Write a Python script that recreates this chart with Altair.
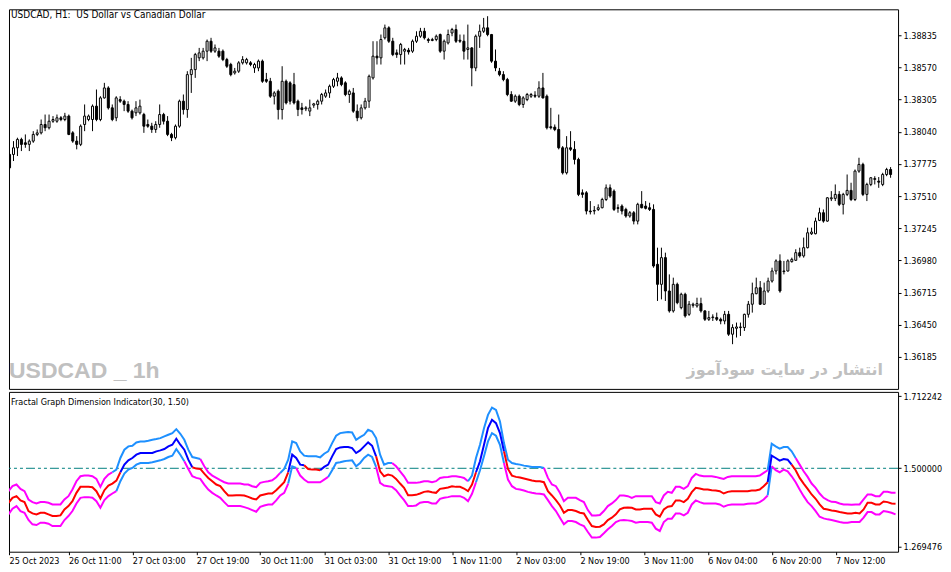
import json

import altair as alt
import pandas as pd

# USDCAD H1 candles (bar 0 = 25 Oct 2023)
opens = [
    1.37853, 1.37853, 1.37908, 1.37977, 1.37949, 1.37936, 1.37963, 1.38018, 1.38031, 1.38100,
    1.38073, 1.38127, 1.38127, 1.38155, 1.38141, 1.38169, 1.38031, 1.37963, 1.37936, 1.38100,
    1.38141, 1.38141, 1.38251, 1.38141, 1.38319, 1.38401, 1.38237, 1.38155, 1.38305, 1.38292,
    1.38265, 1.38210, 1.38196, 1.38196, 1.38182, 1.38100, 1.38086, 1.38059, 1.38100, 1.38182,
    1.38127, 1.38018, 1.37991, 1.38086, 1.38292, 1.38223, 1.38511, 1.38552, 1.38649, 1.38649,
    1.38704, 1.38786, 1.38704, 1.38704, 1.38704, 1.38635, 1.38594, 1.38525, 1.38539, 1.38608,
    1.38608, 1.38608, 1.38566, 1.38566, 1.38622, 1.38470, 1.38456, 1.38333, 1.38374, 1.38223,
    1.38456, 1.38443, 1.38429, 1.38292, 1.38237, 1.38229, 1.38210, 1.38259, 1.38265, 1.38292,
    1.38333, 1.38360, 1.38415, 1.38456, 1.38484, 1.38443, 1.38347, 1.38360, 1.38210, 1.38155,
    1.38237, 1.38292, 1.38484, 1.38663, 1.38649, 1.38814, 1.38896, 1.38786, 1.38690, 1.38676,
    1.38704, 1.38712, 1.38704, 1.38786, 1.38827, 1.38868, 1.38800, 1.38792, 1.38800, 1.38841,
    1.38704, 1.38772, 1.38854, 1.38882, 1.38794, 1.38786, 1.38718, 1.38731, 1.38566, 1.38827,
    1.38868, 1.38896, 1.38841, 1.38622, 1.38539, 1.38511, 1.38470, 1.38347, 1.38292, 1.38333,
    1.38265, 1.38305, 1.38333, 1.38341, 1.38333, 1.38401, 1.38333, 1.38081, 1.38078, 1.38059,
    1.37908, 1.37702, 1.37908, 1.37895, 1.37812, 1.37537, 1.37537, 1.37387, 1.37387, 1.37400,
    1.37414, 1.37482, 1.37578, 1.37551, 1.37414, 1.37428, 1.37400, 1.37346, 1.37373, 1.37304,
    1.37442, 1.37428, 1.37414, 1.37400, 1.36948, 1.36783, 1.37003, 1.36728, 1.36564, 1.36783,
    1.36591, 1.36701, 1.36536, 1.36610, 1.36605, 1.36624, 1.36564, 1.36495, 1.36509, 1.36509,
    1.36495, 1.36481, 1.36536, 1.36372, 1.36421, 1.36427, 1.36427, 1.36536, 1.36619, 1.36706,
    1.36755, 1.36619, 1.36728, 1.36810, 1.36893, 1.36976, 1.36888, 1.36893, 1.36970, 1.36981,
    1.37044, 1.37017, 1.37085, 1.37200, 1.37200, 1.37310, 1.37373, 1.37304, 1.37488, 1.37491,
    1.37524, 1.37442, 1.37524, 1.37557, 1.37482, 1.37716, 1.37771, 1.37524, 1.37606, 1.37647,
    1.37633, 1.37606, 1.37688, 1.37729,
]
highs = [
    1.37867, 1.37963, 1.37991, 1.37991, 1.38018, 1.37977, 1.38045, 1.38059, 1.38141, 1.38182,
    1.38182, 1.38169, 1.38182, 1.38169, 1.38196, 1.38182, 1.38045, 1.38004, 1.38100, 1.38265,
    1.38182, 1.38265, 1.38388, 1.38333, 1.38443, 1.38415, 1.38265, 1.38333, 1.38333, 1.38305,
    1.38292, 1.38223, 1.38292, 1.38305, 1.38196, 1.38141, 1.38114, 1.38127, 1.38265, 1.38196,
    1.38169, 1.38031, 1.38100, 1.38305, 1.38347, 1.38539, 1.38649, 1.38690, 1.38731, 1.38731,
    1.38800, 1.38814, 1.38759, 1.38731, 1.38718, 1.38649, 1.38608, 1.38566, 1.38622, 1.38663,
    1.38649, 1.38622, 1.38608, 1.38635, 1.38635, 1.38525, 1.38484, 1.38374, 1.38388, 1.38580,
    1.38470, 1.38456, 1.38525, 1.38305, 1.38278, 1.38251, 1.38305, 1.38278, 1.38305, 1.38360,
    1.38388, 1.38429, 1.38484, 1.38525, 1.38497, 1.38456, 1.38388, 1.38401, 1.38265, 1.38265,
    1.38319, 1.38511, 1.38786, 1.38786, 1.38841, 1.38923, 1.38909, 1.38814, 1.38718, 1.38772,
    1.38731, 1.38731, 1.38800, 1.38868, 1.38896, 1.38896, 1.38814, 1.38814, 1.38841, 1.38849,
    1.38800, 1.38882, 1.38896, 1.38923, 1.38841, 1.38841, 1.38923, 1.38737, 1.38841, 1.38923,
    1.38978, 1.38992, 1.38846, 1.38718, 1.38566, 1.38539, 1.38484, 1.38374, 1.38347, 1.38347,
    1.38333, 1.38360, 1.38360, 1.38374, 1.38456, 1.38525, 1.38347, 1.38237, 1.38100, 1.38182,
    1.37922, 1.38004, 1.38045, 1.37963, 1.37826, 1.37565, 1.37551, 1.37469, 1.37428, 1.37442,
    1.37496, 1.37606, 1.37606, 1.37565, 1.37442, 1.37442, 1.37414, 1.37387, 1.37387, 1.37455,
    1.37551, 1.37469, 1.37455, 1.37442, 1.37085, 1.37085, 1.37044, 1.36865, 1.36838, 1.36797,
    1.36714, 1.36714, 1.36646, 1.36632, 1.36673, 1.36673, 1.36570, 1.36564, 1.36536, 1.36550,
    1.36509, 1.36564, 1.36564, 1.36454, 1.36468, 1.36468, 1.36541, 1.36646, 1.36797, 1.36838,
    1.36810, 1.36797, 1.36838, 1.36920, 1.36989, 1.37030, 1.36976, 1.36989, 1.37003, 1.37072,
    1.37085, 1.37168, 1.37250, 1.37250, 1.37332, 1.37414, 1.37400, 1.37502, 1.37551, 1.37606,
    1.37551, 1.37537, 1.37688, 1.37620, 1.37729, 1.37826, 1.37785, 1.37620, 1.37667, 1.37674,
    1.37667, 1.37702, 1.37743, 1.37749,
]
lows = [
    1.37729, 1.37799, 1.37840, 1.37881, 1.37908, 1.37881, 1.37949, 1.38004, 1.38018, 1.38045,
    1.38059, 1.38114, 1.38114, 1.38127, 1.38127, 1.38012, 1.37949, 1.37895, 1.37922, 1.38045,
    1.38127, 1.38045, 1.38127, 1.38127, 1.38313, 1.38223, 1.38127, 1.38127, 1.38278, 1.38210,
    1.38196, 1.38141, 1.38169, 1.38182, 1.38031, 1.38073, 1.38031, 1.38031, 1.38073, 1.38100,
    1.38004, 1.37963, 1.37977, 1.38073, 1.38182, 1.38155, 1.38360, 1.38484, 1.38622, 1.38635,
    1.38622, 1.38690, 1.38690, 1.38649, 1.38622, 1.38566, 1.38497, 1.38511, 1.38525, 1.38594,
    1.38594, 1.38580, 1.38525, 1.38539, 1.38443, 1.38443, 1.38319, 1.38265, 1.38141, 1.38141,
    1.38265, 1.38265, 1.38265, 1.38169, 1.38182, 1.38210, 1.38169, 1.38237, 1.38223, 1.38265,
    1.38319, 1.38319, 1.38401, 1.38415, 1.38415, 1.38333, 1.38278, 1.38196, 1.38127, 1.38141,
    1.38223, 1.38237, 1.38470, 1.38594, 1.38594, 1.38800, 1.38772, 1.38663, 1.38649, 1.38594,
    1.38594, 1.38676, 1.38690, 1.38772, 1.38814, 1.38800, 1.38772, 1.38786, 1.38786, 1.38690,
    1.38635, 1.38759, 1.38827, 1.38772, 1.38772, 1.38635, 1.38635, 1.38415, 1.38539, 1.38731,
    1.38854, 1.38827, 1.38608, 1.38539, 1.38497, 1.38456, 1.38333, 1.38287, 1.38278, 1.38251,
    1.38237, 1.38292, 1.38319, 1.38319, 1.38319, 1.38314, 1.38059, 1.38059, 1.38045, 1.37895,
    1.37688, 1.37688, 1.37881, 1.37771, 1.37510, 1.37496, 1.37359, 1.37359, 1.37359, 1.37387,
    1.37409, 1.37469, 1.37496, 1.37387, 1.37373, 1.37359, 1.37332, 1.37332, 1.37277, 1.37277,
    1.37409, 1.37400, 1.37387, 1.36920, 1.36646, 1.36659, 1.36646, 1.36550, 1.36550, 1.36619,
    1.36577, 1.36509, 1.36523, 1.36591, 1.36591, 1.36550, 1.36481, 1.36481, 1.36481, 1.36481,
    1.36454, 1.36454, 1.36358, 1.36290, 1.36345, 1.36358, 1.36399, 1.36509, 1.36550, 1.36701,
    1.36613, 1.36613, 1.36714, 1.36797, 1.36865, 1.36714, 1.36865, 1.36888, 1.36962, 1.36976,
    1.37003, 1.37003, 1.37079, 1.37190, 1.37195, 1.37304, 1.37291, 1.37299, 1.37469, 1.37469,
    1.37428, 1.37359, 1.37510, 1.37469, 1.37469, 1.37702, 1.37510, 1.37469, 1.37592, 1.37606,
    1.37578, 1.37592, 1.37674, 1.37661,
]
closes = [
    1.37743, 1.37908, 1.37977, 1.37936, 1.37936, 1.37963, 1.38018, 1.38031, 1.38100, 1.38073,
    1.38127, 1.38141, 1.38155, 1.38141, 1.38169, 1.38018, 1.37963, 1.37936, 1.38086, 1.38169,
    1.38169, 1.38251, 1.38141, 1.38319, 1.38401, 1.38237, 1.38141, 1.38319, 1.38292, 1.38265,
    1.38210, 1.38155, 1.38237, 1.38251, 1.38086, 1.38086, 1.38059, 1.38100, 1.38182, 1.38127,
    1.38018, 1.37991, 1.38086, 1.38292, 1.38223, 1.38511, 1.38552, 1.38676, 1.38690, 1.38704,
    1.38786, 1.38704, 1.38731, 1.38663, 1.38635, 1.38580, 1.38511, 1.38539, 1.38608, 1.38635,
    1.38635, 1.38594, 1.38594, 1.38622, 1.38456, 1.38456, 1.38333, 1.38360, 1.38223, 1.38456,
    1.38278, 1.38292, 1.38278, 1.38223, 1.38223, 1.38237, 1.38237, 1.38270, 1.38292, 1.38347,
    1.38360, 1.38415, 1.38470, 1.38484, 1.38429, 1.38347, 1.38374, 1.38210, 1.38155, 1.38237,
    1.38292, 1.38497, 1.38663, 1.38649, 1.38800, 1.38896, 1.38786, 1.38676, 1.38676, 1.38759,
    1.38718, 1.38698, 1.38786, 1.38827, 1.38868, 1.38814, 1.38792, 1.38800, 1.38827, 1.38704,
    1.38786, 1.38841, 1.38882, 1.38786, 1.38786, 1.38704, 1.38731, 1.38566, 1.38827, 1.38868,
    1.38896, 1.38841, 1.38622, 1.38566, 1.38511, 1.38470, 1.38347, 1.38292, 1.38333, 1.38265,
    1.38319, 1.38347, 1.38347, 1.38333, 1.38401, 1.38319, 1.38073, 1.38073, 1.38059, 1.37908,
    1.37702, 1.37908, 1.37895, 1.37812, 1.37524, 1.37524, 1.37387, 1.37381, 1.37392, 1.37414,
    1.37482, 1.37578, 1.37510, 1.37400, 1.37409, 1.37387, 1.37346, 1.37373, 1.37304, 1.37442,
    1.37414, 1.37409, 1.37400, 1.36934, 1.36783, 1.37003, 1.36728, 1.36564, 1.36783, 1.36632,
    1.36701, 1.36523, 1.36619, 1.36619, 1.36624, 1.36564, 1.36495, 1.36509, 1.36514, 1.36495,
    1.36481, 1.36536, 1.36372, 1.36427, 1.36432, 1.36432, 1.36536, 1.36619, 1.36706, 1.36755,
    1.36619, 1.36728, 1.36810, 1.36893, 1.36976, 1.36728, 1.36893, 1.36976, 1.36989, 1.37044,
    1.37017, 1.37085, 1.37208, 1.37214, 1.37304, 1.37373, 1.37304, 1.37496, 1.37496, 1.37524,
    1.37442, 1.37524, 1.37557, 1.37482, 1.37716, 1.37771, 1.37524, 1.37606, 1.37661, 1.37655,
    1.37625, 1.37688, 1.37729, 1.37688,
]

# Fractal Graph Dimension Indicator(30, 1.50): main line and its two bands
fgdi = [
    1.3855, 1.3982, 1.4129, 1.4178, 1.4051, 1.4002, 1.3738, 1.3669, 1.3640, 1.3689,
    1.3689, 1.3640, 1.3591, 1.3591, 1.3610, 1.3786, 1.3884, 1.4031, 1.4276, 1.4452,
    1.4452, 1.4452, 1.4442, 1.4325, 1.4110, 1.4354, 1.4491, 1.4550, 1.4638, 1.4883,
    1.5108, 1.5235, 1.5304, 1.5402, 1.5451, 1.5451, 1.5451, 1.5451, 1.5500, 1.5529,
    1.5568, 1.5647, 1.5695, 1.5872, 1.5695, 1.5549, 1.5255, 1.5030, 1.4991, 1.4981,
    1.4844, 1.4716, 1.4619, 1.4521, 1.4472, 1.4325, 1.4198, 1.4198, 1.4207, 1.4207,
    1.4198, 1.4158, 1.4110, 1.4080, 1.4198, 1.4227, 1.4256, 1.4256, 1.4354, 1.4472,
    1.4589, 1.4883, 1.5402, 1.5304, 1.5108, 1.5088, 1.4981, 1.4961, 1.4961, 1.4942,
    1.5040, 1.5108, 1.5353, 1.5568, 1.5617, 1.5627, 1.5627, 1.5598, 1.5451, 1.5529,
    1.5647, 1.5764, 1.5666, 1.5353, 1.4912, 1.4765, 1.4814, 1.4785, 1.4687, 1.4550,
    1.4423, 1.4207, 1.4207, 1.4217, 1.4256, 1.4305, 1.4325, 1.4295, 1.4276, 1.4393,
    1.4413, 1.4432, 1.4472, 1.4452, 1.4452, 1.4403, 1.4325, 1.4521, 1.4883, 1.5206,
    1.5695, 1.6185, 1.6430, 1.6332, 1.6038, 1.5500, 1.4981, 1.4785, 1.4746, 1.4726,
    1.4697, 1.4668, 1.4638, 1.4619, 1.4619, 1.4589, 1.4325, 1.4198, 1.4061, 1.3904,
    1.3689, 1.3767, 1.3767, 1.3738, 1.3689, 1.3669, 1.3473, 1.3297, 1.3268, 1.3277,
    1.3346, 1.3473, 1.3542, 1.3640, 1.3786, 1.3835, 1.3845, 1.3835, 1.3786, 1.3786,
    1.3806, 1.3806, 1.3806, 1.3640, 1.3571, 1.3786, 1.3865, 1.3884, 1.4051, 1.4051,
    1.4002, 1.4100, 1.4295, 1.4423, 1.4403, 1.4374, 1.4374, 1.4354, 1.4344, 1.4325,
    1.4256, 1.4305, 1.4325, 1.4325, 1.4325, 1.4325, 1.4325, 1.4344, 1.4344, 1.4374,
    1.4472, 1.4589, 1.5372, 1.5304, 1.5226, 1.5275, 1.5255, 1.5108, 1.4942, 1.4716,
    1.4550, 1.4393, 1.4227, 1.4100, 1.3933, 1.3806, 1.3786, 1.3757, 1.3738, 1.3708,
    1.3689, 1.3669, 1.3669, 1.3689, 1.3669, 1.3786, 1.3982, 1.3982, 1.3933, 1.3933,
    1.4021, 1.4002, 1.3963, 1.3953,
]
upper_band = [
    1.4198, 1.4325, 1.4472, 1.4521, 1.4393, 1.4325, 1.4080, 1.4002, 1.3963, 1.4002,
    1.4002, 1.3982, 1.3933, 1.3933, 1.3933, 1.4080, 1.4178, 1.4374, 1.4619, 1.4765,
    1.4785, 1.4785, 1.4765, 1.4687, 1.4452, 1.4687, 1.4814, 1.4883, 1.4961, 1.5304,
    1.5549, 1.5647, 1.5666, 1.5764, 1.5793, 1.5793, 1.5813, 1.5842, 1.5862, 1.5891,
    1.5940, 1.5989, 1.6038, 1.6156, 1.6019, 1.5842, 1.5549, 1.5333, 1.5304, 1.5275,
    1.5059, 1.4883, 1.4785, 1.4716, 1.4648, 1.4589, 1.4550, 1.4550, 1.4550, 1.4550,
    1.4521, 1.4521, 1.4472, 1.4442, 1.4570, 1.4599, 1.4619, 1.4648, 1.4736, 1.4863,
    1.4981, 1.5255, 1.5793, 1.5744, 1.5500, 1.5372, 1.5353, 1.5353, 1.5353, 1.5323,
    1.5431, 1.5500, 1.5744, 1.5960, 1.6038, 1.6058, 1.6068, 1.6058, 1.5842, 1.5921,
    1.5989, 1.6136, 1.6087, 1.5891, 1.5402, 1.5108, 1.5157, 1.5157, 1.5059, 1.4912,
    1.4765, 1.4570, 1.4570, 1.4570, 1.4589, 1.4619, 1.4619, 1.4589, 1.4619, 1.4716,
    1.4736, 1.4746, 1.4765, 1.4765, 1.4746, 1.4716, 1.4619, 1.4785, 1.5304, 1.5695,
    1.6185, 1.6577, 1.6792, 1.6723, 1.6381, 1.5744, 1.5255, 1.5157, 1.5128, 1.5108,
    1.5079, 1.5059, 1.5040, 1.5040, 1.5040, 1.5010, 1.4716, 1.4521, 1.4472, 1.4276,
    1.4031, 1.4129, 1.4129, 1.4129, 1.4061, 1.4002, 1.3767, 1.3610, 1.3610, 1.3620,
    1.3738, 1.3884, 1.3963, 1.4061, 1.4198, 1.4198, 1.4178, 1.4129, 1.4178, 1.4178,
    1.4178, 1.4178, 1.4178, 1.4002, 1.3963, 1.4198, 1.4305, 1.4276, 1.4452, 1.4452,
    1.4393, 1.4472, 1.4716, 1.4834, 1.4785, 1.4765, 1.4765, 1.4765, 1.4746, 1.4716,
    1.4687, 1.4746, 1.4765, 1.4765, 1.4765, 1.4765, 1.4765, 1.4765, 1.4765, 1.4785,
    1.4863, 1.4942, 1.5725, 1.5647, 1.5578, 1.5627, 1.5627, 1.5500, 1.5304, 1.5108,
    1.4912, 1.4746, 1.4550, 1.4423, 1.4256, 1.4129, 1.4061, 1.4011, 1.4002, 1.3963,
    1.3933, 1.3933, 1.3924, 1.3933, 1.3933, 1.4080, 1.4227, 1.4227, 1.4178, 1.4178,
    1.4305, 1.4305, 1.4276, 1.4276,
]
lower_band = [
    1.3542, 1.3640, 1.3806, 1.3884, 1.3738, 1.3689, 1.3473, 1.3346, 1.3326, 1.3395,
    1.3395, 1.3365, 1.3297, 1.3297, 1.3297, 1.3473, 1.3591, 1.3738, 1.3963, 1.4129,
    1.4149, 1.4149, 1.4129, 1.4031, 1.3835, 1.4061, 1.4178, 1.4256, 1.4325, 1.4619,
    1.4844, 1.4961, 1.5010, 1.5108, 1.5157, 1.5157, 1.5157, 1.5177, 1.5206, 1.5235,
    1.5275, 1.5333, 1.5372, 1.5568, 1.5402, 1.5206, 1.4981, 1.4765, 1.4716, 1.4687,
    1.4521, 1.4374, 1.4276, 1.4198, 1.4129, 1.4002, 1.3884, 1.3884, 1.3884, 1.3884,
    1.3855, 1.3816, 1.3767, 1.3718, 1.3865, 1.3904, 1.3933, 1.3933, 1.4051, 1.4198,
    1.4276, 1.4550, 1.5059, 1.5010, 1.4785, 1.4668, 1.4589, 1.4589, 1.4589, 1.4589,
    1.4668, 1.4746, 1.4942, 1.5157, 1.5177, 1.5206, 1.5226, 1.5235, 1.5059, 1.5157,
    1.5304, 1.5402, 1.5333, 1.5040, 1.4570, 1.4491, 1.4472, 1.4452, 1.4354, 1.4198,
    1.4061, 1.3884, 1.3884, 1.3904, 1.3982, 1.4002, 1.4002, 1.3963, 1.3963, 1.4100,
    1.4129, 1.4149, 1.4178, 1.4178, 1.4178, 1.4129, 1.4031, 1.4247, 1.4589, 1.4942,
    1.5353, 1.5793, 1.6038, 1.5960, 1.5695, 1.5157, 1.4668, 1.4472, 1.4393, 1.4374,
    1.4344, 1.4305, 1.4276, 1.4256, 1.4247, 1.4227, 1.4061, 1.3884, 1.3738, 1.3542,
    1.3346, 1.3444, 1.3444, 1.3414, 1.3346, 1.3297, 1.3121, 1.2954, 1.2954, 1.2974,
    1.3082, 1.3199, 1.3297, 1.3414, 1.3463, 1.3473, 1.3463, 1.3444, 1.3395, 1.3414,
    1.3414, 1.3414, 1.3395, 1.3219, 1.3150, 1.3414, 1.3512, 1.3512, 1.3669, 1.3669,
    1.3610, 1.3689, 1.3933, 1.4051, 1.4002, 1.3963, 1.3963, 1.3963, 1.3963, 1.3933,
    1.3865, 1.3914, 1.3933, 1.3933, 1.3933, 1.3933, 1.3953, 1.3963, 1.3963, 1.4002,
    1.4080, 1.4198, 1.5059, 1.4942, 1.4883, 1.4961, 1.4912, 1.4765, 1.4589, 1.4374,
    1.4178, 1.4002, 1.3884, 1.3738, 1.3571, 1.3522, 1.3493, 1.3473, 1.3444, 1.3414,
    1.3395, 1.3395, 1.3414, 1.3414, 1.3414, 1.3542, 1.3708, 1.3708, 1.3640, 1.3640,
    1.3738, 1.3718, 1.3689, 1.3640,
]
# bar ranges where each band is drawn in its "above level" colour
upper_blue_runs = [(28, 49), (70, 97), (117, 135), (192, 198)]
lower_blue_runs = [(29, 45), (72, 73), (82, 93), (119, 125), (192, 192)]
level = 1.5

tick_bars = [0, 16, 32, 48, 64, 80, 96, 112, 128, 144, 160, 176, 192, 208]
tick_labels = [
    "25 Oct 2023", "26 Oct 11:00", "27 Oct 03:00", "27 Oct 19:00", "30 Oct 11:00",
    "31 Oct 03:00", "31 Oct 19:00", "1 Nov 11:00", "2 Nov 03:00", "2 Nov 19:00",
    "3 Nov 11:00", "6 Nov 04:00", "6 Nov 20:00", "7 Nov 12:00",
]
price_ticks = [1.36185, 1.36450, 1.36715, 1.36980, 1.37245, 1.37510,
               1.37775, 1.38040, 1.38305, 1.38570, 1.38835]
fgdi_ticks = [1.269476, 1.5, 1.712242]

FONT = "'DejaVu Sans Condensed', 'Liberation Sans', sans-serif"
X_LO, X_HI = 1.125, 223.625
x_scale = alt.Scale(domain=[X_LO, X_HI], nice=False, zero=False)

candles = pd.DataFrame({
    "bar": range(len(opens)), "open": opens, "high": highs,
    "low": lows, "close": closes,
})


def coloured_line(values, hi_flags, name, hi, lo):
    # split a series into runs; each segment takes the colour of its end bar
    rows, seg = [], 0
    for i, v in enumerate(values):
        state = hi if hi_flags[i] else lo
        if i > 0 and hi_flags[i] != hi_flags[i - 1]:
            seg += 1
            rows.append({"bar": i - 1, "value": values[i - 1], "key": f"{name}{seg}", "state": state})
        rows.append({"bar": i, "value": v, "key": f"{name}{seg}", "state": state})
    return pd.DataFrame(rows)


def in_runs(runs, n):
    return [any(a <= i <= b for a, b in runs) for i in range(n)]


n = len(fgdi)
bands = pd.concat([
    coloured_line(upper_band, in_runs(upper_blue_runs, n), "up", "band_hi", "band_lo"),
    coloured_line(lower_band, in_runs(lower_blue_runs, n), "lo", "band_hi", "band_lo"),
])
main = coloured_line(fgdi, [v > level for v in fgdi], "main", "fgdi_hi", "fgdi_lo")

line_colours = alt.Scale(
    domain=["fgdi_hi", "fgdi_lo", "band_hi", "band_lo"],
    range=["#0000FF", "#FF0000", "#1E90FF", "#FF00FF"],
)

# ---- price panel
price_y = alt.Scale(domain=[1.359216, 1.39049], nice=False, zero=False)
price_axis = alt.Axis(orient="right", values=price_ticks, format=".5f", title=None,
                      labelOverlap=False, labelBound=False)
base = alt.Chart(candles).encode(x=alt.X("bar:Q", scale=x_scale, axis=None))

wicks = base.mark_rule(color="black", strokeWidth=1, clip=True).encode(
    y=alt.Y("low:Q", scale=price_y, axis=price_axis),
    y2="high:Q",
)
bodies = base.mark_bar(size=2, stroke="black", strokeWidth=1, clip=True).encode(
    y=alt.Y("open:Q", axis=price_axis),
    y2="close:Q",
    fill=alt.condition("datum.close >= datum.open", alt.value("white"), alt.value("black")),
)


def note(text, x, y, **kw):
    return alt.Chart(pd.DataFrame({"t": [text]})).mark_text(
        align=kw.pop("align", "left"), baseline="alphabetic", **kw
    ).encode(text="t:N", x=alt.value(x), y=alt.value(y))


title = note("USDCAD, H1:\u00a0 US Dollar vs Canadian Dollar", 2, 9,
             font=FONT, fontSize=10, color="black")
mark1 = note("USDCAD _ 1h", 0, 369,
             font="'Liberation Sans Narrow', 'Liberation Sans', sans-serif",
             fontSize=23, fontWeight="bold", color="#c0c0c0")
mark2 = note("انتشار در سایت سودآموز", 875, 366, align="right",
             font="'DejaVu Sans', sans-serif", fontSize=16, fontWeight="bold",
             color="#c0c0c0")

top = alt.layer(wicks, bodies, title, mark1, mark2).properties(width=890, height=380)

# ---- indicator panel
fgdi_y = alt.Scale(domain=[1.2538, 1.7255], nice=False, zero=False)
label_expr = f"{json.dumps(tick_labels)}[round(datum.value / 16)]"
x_axis = alt.Axis(
    values=[max(b, X_LO) for b in tick_bars], labelExpr=label_expr, title=None,
    labelAlign="left", labelBaseline="top", labelFlush=False, labelOverlap=False,
    tickSize=3, labelPadding=2,
)

level_line = alt.Chart(pd.DataFrame({"v": [level]})).mark_rule(
    color="#008080", strokeWidth=1, strokeDash=[9, 3, 3, 3, 3, 3]
).encode(y=alt.Y("v:Q", scale=fgdi_y,
                 axis=alt.Axis(orient="right", values=fgdi_ticks, format=".6f", title=None,
                               labelOverlap=False)))

band_lines = alt.Chart(bands).mark_line(strokeWidth=2, clip=True).encode(
    x=alt.X("bar:Q", scale=x_scale, axis=x_axis),
    y=alt.Y("value:Q", scale=fgdi_y),
    detail="key:N",
    color=alt.Color("state:N", scale=line_colours, legend=None),
)
main_line = alt.Chart(main).mark_line(strokeWidth=2, clip=True).encode(
    x=alt.X("bar:Q", scale=x_scale),
    y=alt.Y("value:Q", scale=fgdi_y),
    detail="key:N",
    color=alt.Color("state:N", scale=line_colours, legend=None),
)
ind_name = note("Fractal Graph Dimension Indicator(30, 1.50)", 2, 13,
                font=FONT, fontSize=9, color="black")

bottom = alt.layer(level_line, band_lines, main_line, ind_name).properties(width=890, height=160)

chart = alt.vconcat(top, bottom, spacing=3, bounds="flush").properties(
    padding=0, background="white"
).configure_view(
    stroke="black", strokeWidth=1
).configure_axis(
    grid=False, domain=False, ticks=True, tickSize=3, tickColor="black",
    labelFont=FONT, labelFontSize=9, labelColor="black", labelPadding=2,
    labelOverlap=False,
)

chart.save("out.html", embed_options={"renderer": "svg", "actions": False})
